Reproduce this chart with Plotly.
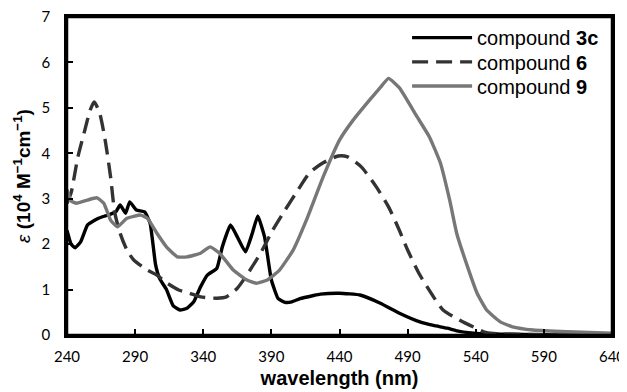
import plotly.graph_objects as go

# compound 3c (black solid)
wl_3c = [240, 243, 246, 250, 255, 260, 264, 268, 272, 276, 279, 283, 286, 291, 297, 301, 305, 308, 313, 318,
         323, 328, 333, 338, 343, 350, 354, 360, 365, 371, 376, 380, 385, 390, 395, 400, 405, 411, 421,
         426, 440, 455, 470, 484, 499, 509, 519, 528, 543, 558, 575, 600, 640]
eps_3c = [2.3, 2.0, 1.92, 2.05, 2.42, 2.52, 2.58, 2.62, 2.66, 2.72, 2.86, 2.68, 2.93, 2.75, 2.71, 2.46, 1.55, 1.24, 1.0, 0.64,
          0.55, 0.59, 0.73, 1.06, 1.32, 1.47, 1.94, 2.42, 2.16, 1.83, 2.24, 2.62, 2.16, 1.21, 0.8, 0.72, 0.73, 0.8, 0.87,
          0.9, 0.92, 0.88, 0.7, 0.48, 0.29, 0.21, 0.15, 0.08, 0.03, 0.02, 0.01, 0.0, 0.0]

# compound 6 (dark dashed)
wl_6 = [240, 243, 248, 253, 257, 260, 264, 268, 272, 275, 279, 284, 289, 299, 306, 312, 322, 330, 338, 350,
        357, 365, 372, 382, 391, 400, 411, 418, 428, 439, 446, 456, 467, 476, 484, 490, 499, 509, 516, 528,
        538, 548, 560, 580, 600]
eps_6 = [2.9, 3.13, 3.92, 4.5, 4.95, 5.13, 4.88, 4.29, 3.48, 2.7, 2.24, 1.87, 1.65, 1.43, 1.32, 1.17, 0.99, 0.92, 0.84, 0.81,
         0.84, 1.03, 1.32, 1.8, 2.31, 2.75, 3.26, 3.57, 3.79, 3.94, 3.92, 3.7, 3.26, 2.82, 2.3, 1.87, 1.32, 0.84, 0.55, 0.33,
         0.18, 0.05, 0.02, 0.01, 0.0]

# compound 9 (gray solid)
wl_9 = [240, 243, 247, 255, 262, 267, 272, 277, 284, 294, 299, 306, 313, 321, 328, 338, 345, 352, 362, 372,
        379, 387, 396, 406, 416, 428, 440, 450, 462, 470, 476, 484, 497, 506, 514, 521, 526, 534, 541, 548,
        558, 567, 582, 607, 640]
eps_9 = [3.2, 2.95, 2.9, 2.97, 3.02, 2.9, 2.53, 2.38, 2.57, 2.64, 2.57, 2.24, 1.94, 1.72, 1.72, 1.8, 1.94, 1.8, 1.43, 1.21,
         1.14, 1.21, 1.43, 1.87, 2.55, 3.48, 4.29, 4.73, 5.17, 5.45, 5.65, 5.44, 4.8, 4.36, 3.79, 2.95, 2.24, 1.5, 0.92, 0.55,
         0.29, 0.18, 0.11, 0.07, 0.04]

x_ticks = [240, 290, 340, 390, 440, 490, 540, 590, 640]
y_ticks = [0, 1, 2, 3, 4, 5, 6, 7]

fig = go.Figure()
fig.add_trace(go.Scatter(x=wl_3c, y=eps_3c, mode="lines", name="compound <b>3c</b>", legend="legend2",
                         line=dict(color="#000000", width=3.4, shape="spline", smoothing=0.4)))
fig.add_trace(go.Scatter(x=wl_6, y=eps_6, mode="lines", name="compound <b>6</b>", legend="legend3",
                         line=dict(color="#333333", width=3.4, dash="16px,8px", shape="spline", smoothing=0.6)))
fig.add_trace(go.Scatter(x=wl_9, y=eps_9, mode="lines", name="compound <b>9</b>", legend="legend4",
                         line=dict(color="#777777", width=3.4, shape="spline", smoothing=0.4)))

leg_font = dict(size=20, family="Liberation Sans, Arial, sans-serif")

# page body adds an 8px offset; figure sized so the plot area lands at x 67..612, y 17..335
fig.update_layout(
    width=619, height=384,
    margin=dict(l=59, r=15, t=9, b=57, autoexpand=False),
    paper_bgcolor="white", plot_bgcolor="white",
    font=dict(family="Liberation Sans, Arial, sans-serif", color="black"),
    legend2=dict(x=0.624, xanchor="left", y=0.935, yanchor="middle", bgcolor="rgba(0,0,0,0)",
                 font=leg_font, itemwidth=60),
    legend3=dict(x=0.624, xanchor="left", y=0.859, yanchor="middle", bgcolor="rgba(0,0,0,0)",
                 font=leg_font, itemwidth=60),
    legend4=dict(x=0.624, xanchor="left", y=0.783, yanchor="middle", bgcolor="rgba(0,0,0,0)",
                 font=leg_font, itemwidth=60),
    xaxis=dict(range=[240, 640], tickvals=x_ticks, ticktext=[str(v) for v in x_ticks],
               ticks="inside", ticklen=6, tickwidth=2, tickcolor="black", automargin=False,
               ticklabelstandoff=6, ticklabeloverflow="allow",
               showline=True, linecolor="black", linewidth=2.5, mirror=True, showgrid=False, zeroline=False,
               tickfont=dict(size=15, family="Lato, sans-serif"),
               title=dict(text="<b>wavelength (nm)</b>", font=dict(size=20), standoff=8)),
    yaxis=dict(range=[0, 7], tickvals=y_ticks, ticktext=[str(v) for v in y_ticks],
               ticks="inside", ticklen=6, tickwidth=2, tickcolor="black", automargin=False,
               ticklabelstandoff=11, ticklabeloverflow="allow",
               showline=True, linecolor="black", linewidth=2.5, mirror=True, showgrid=False, zeroline=False,
               tickfont=dict(size=15, family="Lato, sans-serif"),
               title=dict(text="<i>ε</i> <b>(10<sup>4</sup> M<sup>−1</sup>cm<sup>−1</sup>)</b>", font=dict(size=19), standoff=6)),
    shapes=[dict(type="rect", xref="paper", yref="paper", x0=0, x1=1, y0=0, y1=1,
                 line=dict(color="black", width=2.5), fillcolor="rgba(0,0,0,0)", layer="above")],
)

fig.write_html("out.html")
